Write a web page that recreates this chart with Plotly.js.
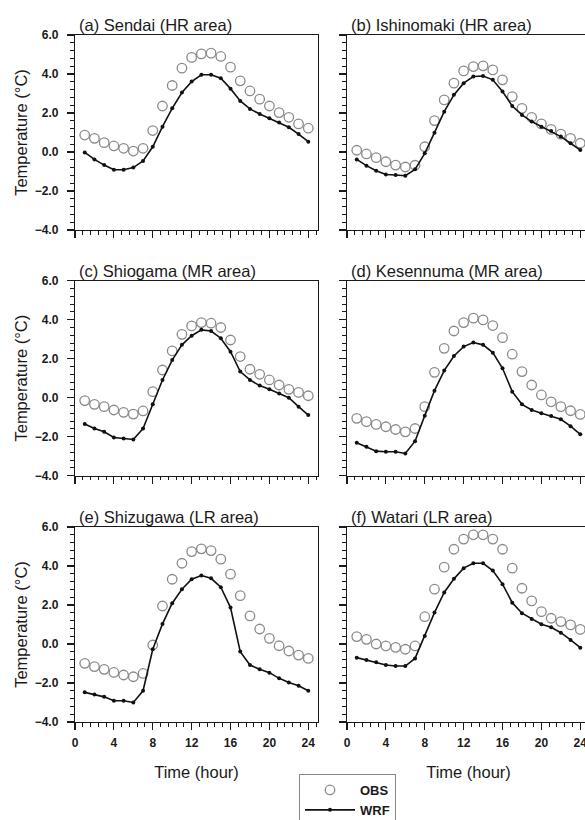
<!DOCTYPE html>
<html><head><meta charset="utf-8">
<script src="https://cdn.plot.ly/plotly-3.0.1.min.js"></script>
<style>html,body{margin:0;padding:0;overflow:hidden;background:#fff;width:585px;height:820px}</style>
</head><body><div id="chart" style="width:600px;height:840px"></div>
<script>
const hours = [1,2,3,4,5,6,7,8,9,10,11,12,13,14,15,16,17,18,19,20,21,22,23,24];
const panelTitles = ["(a) Sendai (HR area)","(b) Ishinomaki (HR area)","(c) Shiogama (MR area)","(d) Kesennuma (MR area)","(e) Shizugawa (LR area)","(f) Watari (LR area)"];
const seriesNames = ["OBS","WRF"];
const xTickVals = [0,4,8,12,16,20,24];
const yTickVals = [-4,-2,0,2,4,6];

const obsSendai = [0.87,0.70,0.48,0.31,0.19,0.05,0.19,1.10,2.36,3.41,4.30,4.85,5.03,5.07,4.90,4.35,3.65,3.13,2.71,2.36,2.02,1.78,1.44,1.22];
const wrfSendai = [-0.02,-0.38,-0.67,-0.91,-0.91,-0.80,-0.46,0.27,1.30,2.24,3.05,3.61,3.96,3.96,3.78,3.25,2.62,2.21,1.95,1.73,1.51,1.27,0.92,0.53];
const obsIshinomaki = [0.09,-0.10,-0.29,-0.50,-0.67,-0.77,-0.68,0.27,1.61,2.67,3.53,4.16,4.38,4.42,4.21,3.70,2.84,2.24,1.78,1.44,1.16,0.92,0.70,0.45];
const wrfIshinomaki = [-0.38,-0.70,-0.96,-1.15,-1.18,-1.22,-0.89,-0.07,0.99,2.07,2.93,3.53,3.87,3.90,3.70,3.10,2.36,1.90,1.56,1.30,1.08,0.79,0.45,0.10];
const obsShiogama = [-0.15,-0.34,-0.46,-0.63,-0.75,-0.84,-0.68,0.31,1.42,2.40,3.25,3.68,3.85,3.82,3.60,2.96,2.11,1.46,1.20,0.91,0.65,0.43,0.27,0.10];
const wrfShiogama = [-1.35,-1.58,-1.75,-2.04,-2.09,-2.14,-1.58,-0.33,0.91,1.93,2.71,3.18,3.48,3.42,3.05,2.36,1.34,0.91,0.62,0.43,0.22,0.00,-0.46,-0.89];
const obsKesennuma = [-1.06,-1.23,-1.37,-1.49,-1.63,-1.75,-1.58,-0.46,1.30,2.53,3.42,3.85,4.08,3.99,3.70,3.08,2.23,1.34,0.65,0.14,-0.21,-0.46,-0.67,-0.86];
const wrfKesennuma = [-2.31,-2.52,-2.74,-2.77,-2.77,-2.86,-2.23,-0.92,0.36,1.39,2.14,2.62,2.83,2.71,2.31,1.51,0.31,-0.34,-0.63,-0.80,-0.94,-1.11,-1.46,-1.88];
const obsShizugawa = [-0.99,-1.16,-1.30,-1.46,-1.59,-1.68,-1.51,-0.05,1.95,3.32,4.14,4.74,4.88,4.79,4.35,3.58,2.48,1.44,0.77,0.29,-0.09,-0.36,-0.57,-0.74];
const wrfShizugawa = [-2.48,-2.59,-2.71,-2.91,-2.91,-3.00,-2.40,-0.27,1.03,2.09,2.81,3.32,3.51,3.37,2.91,1.87,-0.39,-1.08,-1.30,-1.47,-1.76,-1.97,-2.14,-2.40];
const obsWatari = [0.38,0.24,0.00,-0.10,-0.17,-0.27,-0.10,1.40,2.81,3.94,4.86,5.38,5.60,5.60,5.38,4.86,3.89,2.86,2.21,1.66,1.32,1.15,0.98,0.75];
const wrfWatari = [-0.70,-0.82,-0.94,-1.08,-1.13,-1.13,-0.74,0.41,1.61,2.64,3.34,3.89,4.14,4.14,3.77,3.07,2.12,1.58,1.28,1.01,0.86,0.58,0.21,-0.19];

const obsAll = [obsSendai,obsIshinomaki,obsShiogama,obsKesennuma,obsShizugawa,obsWatari];
const wrfAll = [wrfSendai,wrfIshinomaki,wrfShiogama,wrfKesennuma,wrfShizugawa,wrfWatari];

const W = 600, H = 840;
const FONT = "Liberation Sans, Arial, Helvetica, sans-serif";
const INK = "#1a1a1a";
const colX = [[75,318],[347,590]];
const rowY = [[35,230],[280.7,475.7],[527,722]];

const traces = [];
const layout = {
  width: W, height: H,
  margin: {l:0,r:0,t:0,b:0},
  paper_bgcolor: "#fff", plot_bgcolor: "#fff",
  font: {family: FONT, color: INK},
  showlegend: true,
  legend: {x: 299/W, y: 1-774/H, xanchor: "left", yanchor: "top",
    bgcolor: "#fff", bordercolor: "#888", borderwidth: 1,
    font: {family: FONT, size: 13, weight: "bold", color: INK},
    itemwidth: 50, tracegroupgap: 0},
  annotations: []
};

for (let i = 0; i < 6; i++) {
  const n = i + 1, row = Math.floor(i/2), col = i % 2;
  const xd = [colX[col][0]/W, colX[col][1]/W];
  const yd = [1 - rowY[row][1]/H, 1 - rowY[row][0]/H];
  const xs = "x" + n, ys = "y" + n;
  traces.push({x: hours, y: obsAll[i], xaxis: xs, yaxis: ys, name: seriesNames[0],
    mode: "markers", showlegend: i === 0, legendrank: 1,
    marker: {symbol: "circle-open", size: 9.5, color: "#8a8a8a", line: {width: 1.3}}});
  traces.push({x: hours, y: wrfAll[i], xaxis: xs, yaxis: ys, name: seriesNames[1],
    mode: "lines+markers", showlegend: i === 0, legendrank: 2,
    line: {color: "#111", width: 1.6}, marker: {size: 4, color: "#111"}});

  const bottom = row === 2, left = col === 0;
  layout["xaxis" + n] = {
    domain: xd, anchor: ys, range: [0, 25], tickvals: xTickVals,
    ticks: "outside", ticklen: 7, tickwidth: 1.2, tickcolor: INK,
    minor: {dtick: 0.8, tick0: 0, ticks: "outside", ticklen: 3.5, tickwidth: 1, tickcolor: INK, showgrid: false},
    showline: true, linecolor: INK, linewidth: 1.2, mirror: true,
    showgrid: false, zeroline: false, fixedrange: true,
    showticklabels: bottom, ticklabelstandoff: 2,
    tickfont: {family: FONT, size: 12, weight: "bold", color: INK},
    title: bottom ? {text: "Time (hour)", font: {family: FONT, size: 16.5, color: INK}, standoff: 17} : undefined
  };
  layout["yaxis" + n] = {
    domain: yd, anchor: xs, range: [-4, 6], tickvals: yTickVals, tickformat: ".1f",
    ticks: "outside", ticklen: 7, tickwidth: 1.2, tickcolor: INK,
    minor: {dtick: 0.4, tick0: 0, ticks: "outside", ticklen: 3.5, tickwidth: 1, tickcolor: INK, showgrid: false},
    showline: true, linecolor: INK, linewidth: 1.2, mirror: true,
    showgrid: false, zeroline: false, fixedrange: true,
    showticklabels: left, ticklabelstandoff: 6,
    tickfont: {family: FONT, size: 12, weight: "bold", color: INK},
    title: left ? {text: "Temperature (°C)", font: {family: FONT, size: 16.5, color: INK}, standoff: 3} : undefined
  };
  // inner half of the crossing ticks
  layout["xaxis" + (n+6)] = {
    overlaying: xs, anchor: ys, range: [0, 25], tickvals: xTickVals,
    ticks: "inside", ticklen: 3.5, tickwidth: 1.2, tickcolor: INK,
    minor: {dtick: 0.8, tick0: 0, ticks: "inside", ticklen: 1.5, tickwidth: 1, tickcolor: INK, showgrid: false},
    showline: false, showgrid: false, zeroline: false, showticklabels: false, fixedrange: true
  };
  layout["yaxis" + (n+6)] = {
    overlaying: ys, anchor: xs, range: [-4, 6], tickvals: yTickVals,
    ticks: "inside", ticklen: 3.5, tickwidth: 1.2, tickcolor: INK,
    minor: {dtick: 0.4, tick0: 0, ticks: "inside", ticklen: 1.5, tickwidth: 1, tickcolor: INK, showgrid: false},
    showline: false, showgrid: false, zeroline: false, showticklabels: false, fixedrange: true
  };
  layout.annotations.push({text: panelTitles[i], xref: "paper", yref: "paper",
    x: xd[0] + 2/W, y: yd[1], xanchor: "left", yanchor: "bottom", yshift: -1,
    showarrow: false, font: {family: FONT, size: 16.5, color: INK}});
}

Plotly.newPlot("chart", traces, layout, {staticPlot: true, displayModeBar: false});
</script></body></html>
